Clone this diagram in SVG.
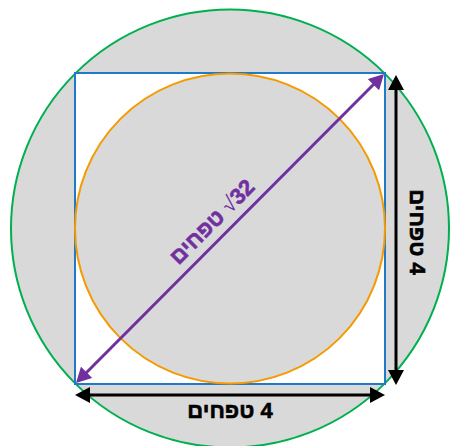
<svg xmlns="http://www.w3.org/2000/svg" width="450" height="446" viewBox="0 0 450 446">
<style>
.lbl{font-family:"Liberation Sans","DejaVu Sans",Arial,sans-serif;font-weight:bold;font-size:22px;text-anchor:middle;stroke-width:0.6px}
.sq{font-weight:normal;stroke-width:0}
</style>
<defs>
<marker id="ab" viewBox="0 0 15 16" refX="3" refY="8" markerWidth="15" markerHeight="16" markerUnits="userSpaceOnUse" orient="auto-start-reverse">
<path d="M0,0 L15,8 L0,16 z" fill="#000"/>
</marker>
<marker id="ap" viewBox="0 0 15 16" refX="3" refY="8" markerWidth="15" markerHeight="16" markerUnits="userSpaceOnUse" orient="auto-start-reverse">
<path d="M0,0 L15,8 L0,16 z" fill="#7030A0"/>
</marker>
</defs>
<g id="outer-circle"><circle cx="230" cy="228.5" r="219" fill="#D9D9D9" stroke="#00B050" stroke-width="2"/></g>
<g id="square"><rect x="75" y="73" width="310" height="311" fill="#FFFFFF" stroke="#1F7BC8" stroke-width="2"/></g>
<g id="inner-circle"><circle cx="230" cy="228.5" r="155" fill="#D9D9D9" stroke="#F59A00" stroke-width="2"/></g>
<g id="connectors">
<line x1="84.5" y1="374.5" x2="375.5" y2="82.5" stroke="#7030A0" stroke-width="3" marker-start="url(#ap)" marker-end="url(#ap)"/>
<line x1="87" y1="395" x2="373" y2="395" stroke="#000" stroke-width="3" marker-start="url(#ab)" marker-end="url(#ab)"/>
<line x1="396" y1="87" x2="396" y2="373" stroke="#000" stroke-width="3" marker-start="url(#ab)" marker-end="url(#ab)"/>
</g>
<g id="label-diagonal" transform="translate(230,228.5) rotate(-45)">
<text class="lbl" x="-8" y="-10" fill="#7030A0" stroke="#7030A0">טפחים &#x200E;<tspan class="sq">√</tspan>32</text>
</g>
<g id="label-bottom"><text class="lbl" x="230" y="418" fill="#000" stroke="#000">טפחים &#x200E;4</text></g>
<g id="label-right" transform="translate(417.5,232) rotate(90)"><text class="lbl" x="0" y="8" fill="#000" stroke="#000">טפחים &#x200E;4</text></g>
</svg>
